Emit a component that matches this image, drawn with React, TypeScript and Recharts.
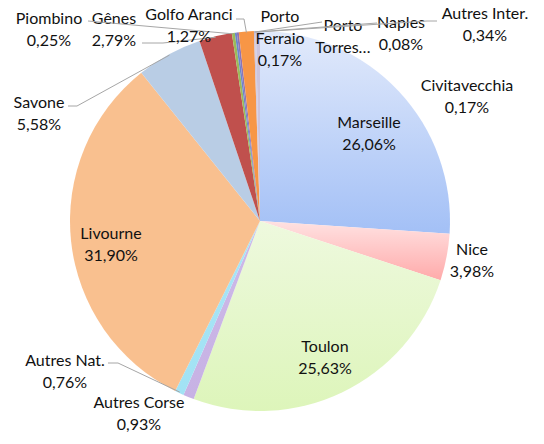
import React from 'react';
import { PieChart, Pie, Cell } from 'recharts';

const categories = [
  'Marseille', 'Nice', 'Toulon', 'Autres Corse', 'Autres Nat.', 'Livourne',
  'Savone', 'Gênes', 'Piombino', 'Civitavecchia', 'Porto Ferraio', 'Golfo Aranci',
  'Porto Torres', 'Naples', 'Autres Inter.',
];
const shares = [26.06, 3.98, 25.63, 0.93, 0.76, 31.9, 5.58, 2.79, 0.25, 0.17, 0.17, 1.27, 0.09, 0.08, 0.34];

const fillTop = [
  '#E2EAFB', '#FFE2E2', '#EEF9DE', '#CDB9E8', '#A9E5F6', '#F9C08F',
  '#B9CDE5', '#C0504D', '#9BBB59', '#6A86CC', '#8E73B5', '#F79646',
  '#C6BEDB', '#C9C2DC', '#CBC4DE',
];
const fillBottom = [
  '#A3C0F6', '#FFAAAA', '#DDF5BA', '#C7B2E4', '#A2E2F4', '#F9C08F',
  '#B9CDE5', '#C0504D', '#9BBB59', '#6A86CC', '#8E73B5', '#F79646',
  '#C6BEDB', '#C9C2DC', '#CBC4DE',
];

type Lay = { x: number; y: number; lines?: string[]; showValue?: boolean; leader?: [number, number][] };
const labelLayout: Lay[] = [
  { x: 369, y: 121 },
  { x: 472, y: 248 },
  { x: 325, y: 345 },
  { x: 139, y: 401 },
  { x: 65, y: 359, leader: [[108, 363], [118, 363]] },
  { x: 111, y: 232 },
  { x: 39, y: 101, leader: [[68, 106], [77, 106]] },
  { x: 114, y: 17, leader: [[142, 43], [163, 43]] },
  { x: 49, y: 17, leader: [[88, 21]] },
  { x: 467, y: 84 },
  { x: 280, y: 15, lines: ['Porto', 'Ferraio'] },
  { x: 189, y: 13, leader: [[236, 19], [244, 19]] },
  { x: 343, y: 24, lines: ['Porto', 'Torres…'], showValue: false, leader: [[322, 22]] },
  { x: 401, y: 21, leader: [[377, 23]] },
  { x: 485, y: 12, leader: [[437, 21], [427, 21]] },
];

const data = categories.map((name, i) => ({ name, value: shares[i] }));
const fmt = (v: number) => v.toFixed(2).replace('.', ',') + '%';
const RAD = Math.PI / 180;
const LINE_H = 22;

const renderLabel = (props: any) => {
  const { cx, cy, midAngle, outerRadius, index } = props;
  const lay = labelLayout[index];
  const d = data[index];
  const lines = lay.lines ?? [d.name];
  const all = lay.showValue === false ? lines : [...lines, fmt(d.value)];
  let leader = null;
  if (lay.leader) {
    const ex = cx + (outerRadius - 1) * Math.cos(-midAngle * RAD);
    const ey = cy + (outerRadius - 1) * Math.sin(-midAngle * RAD);
    const pts = [...lay.leader, [ex, ey]].map((p) => p.join(',')).join(' ');
    leader = <polyline points={pts} fill="none" stroke="#A6A6A6" strokeWidth={1} />;
  }
  return (
    <g key={`lbl-${index}`}>
      {leader}
      {all.map((t, k) => (
        <text
          key={k}
          x={lay.x}
          y={lay.y + k * LINE_H}
          textAnchor="middle"
          dominantBaseline="central"
          fontFamily="Lato, 'Open Sans', sans-serif"
          fontSize={16}
          fill="#111"
        >
          {t}
        </text>
      ))}
    </g>
  );
};

export default function App() {
  return (
    <div style={{ position: 'absolute', left: 0, top: 0, width: 544, height: 444, background: '#fff' }}>
      <PieChart width={544} height={444} margin={{ top: 0, right: 0, bottom: 0, left: 0 }}>
        <defs>
          {fillTop.map((c, i) => (
            <linearGradient key={i} id={`g${i}`} x1="0" y1="0" x2="0" y2="1">
              <stop offset="0%" stopColor={c} />
              <stop offset="100%" stopColor={fillBottom[i]} />
            </linearGradient>
          ))}
        </defs>
        <Pie
          data={data}
          dataKey="value"
          nameKey="name"
          cx={260}
          cy={221}
          outerRadius={190}
          startAngle={90}
          endAngle={-270}
          stroke="none"
          labelLine={false}
          label={renderLabel}
          isAnimationActive={false}
        >
          {data.map((_, i) => (
            <Cell key={i} fill={`url(#g${i})`} />
          ))}
        </Pie>
      </PieChart>
    </div>
  );
}
